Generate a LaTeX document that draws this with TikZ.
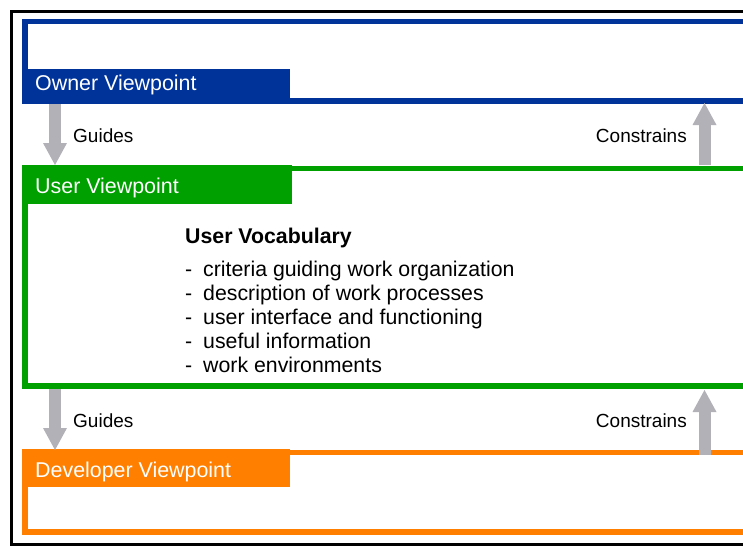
\documentclass[tikz,border=0pt]{standalone}
\usepackage{fontspec}
\setmainfont{Liberation Sans}
\usetikzlibrary{arrows.meta}
\definecolor{ownerblue}{RGB}{0,51,153}
\definecolor{usergreen}{RGB}{0,160,0}
\definecolor{devorange}{RGB}{255,128,0}
\definecolor{arrowgray}{RGB}{179,177,184}
\begin{document}
\begin{tikzpicture}[x=1pt,y=-1pt,
  frame/.style={line width=5.5pt},
  tabtext/.style={text=white, anchor=base west, inner sep=0pt, font=\fontsize{21.4}{24}\selectfont},
  flow/.style={draw=arrowgray, line width=12pt, -{Triangle[length=22pt,width=24pt,line width=0pt]}},
  flowlabel/.style={inner sep=0pt, font=\fontsize{19}{22}\selectfont},
  vocab/.style={anchor=base west, inner sep=0pt, font=\fontsize{21.3}{24}\selectfont},
]
\useasboundingbox (0,0) rectangle (743,546);
\clip (0,0) rectangle (743,546);
\draw[line width=3pt] (11.5,11.5) rectangle (780,544.5);

% Owner viewpoint
\draw[frame, ownerblue] (25,21.5) rectangle (780,101);
\fill[ownerblue] (22,69) rectangle (290,104);
\node[tabtext] (ownerlbl) at (35,90) {Owner Viewpoint};

% User viewpoint
\draw[frame, usergreen] (25,168.5) rectangle (780,386);
\fill[usergreen] (22,165) rectangle (292,204);
\node[tabtext] (userlbl) at (35,193) {User Viewpoint};

% Developer viewpoint
\draw[frame, devorange] (25,452.5) rectangle (780,532);
\fill[devorange] (22,449) rectangle (290,487);
\node[tabtext] (devlbl) at (35,477) {Developer Viewpoint};

% Vocabulary
\node[vocab, font=\fontsize{21.3}{24}\selectfont\bfseries] (voc) at (185,243) {User Vocabulary};
\node[vocab] (i1) at (185,276) {\makebox[18pt][l]{-}criteria guiding work organization};
\node[vocab] (i2) at (185,300) {\makebox[18pt][l]{-}description of work processes};
\node[vocab] (i3) at (185,324) {\makebox[18pt][l]{-}user interface and functioning};
\node[vocab] (i4) at (185,348) {\makebox[18pt][l]{-}useful information};
\node[vocab] (i5) at (185,372) {\makebox[18pt][l]{-}work environments};

% Arrows
\coordinate (g1s) at (55,104);
\coordinate (g1e) at (55,165);
\coordinate (g2s) at (55,389);
\coordinate (g2e) at (55,450);
\coordinate (c1s) at (704.5,165);
\coordinate (c1e) at (704.5,103);
\coordinate (c2s) at (704.5,455);
\coordinate (c2e) at (704.5,390);
\draw[flow] (g1s) -- (g1e);
\draw[flow] (g2s) -- (g2e);
\draw[flow] (c1s) -- (c1e);
\draw[flow] (c2s) -- (c2e);

\node[flowlabel, anchor=base west] (gl1) at (73,142) {Guides};
\node[flowlabel, anchor=base west] (gl2) at (73,427) {Guides};
\node[flowlabel, anchor=base east] (cl1) at (687,142) {Constrains};
\node[flowlabel, anchor=base east] (cl2) at (687,427) {Constrains};
\end{tikzpicture}
\end{document}
